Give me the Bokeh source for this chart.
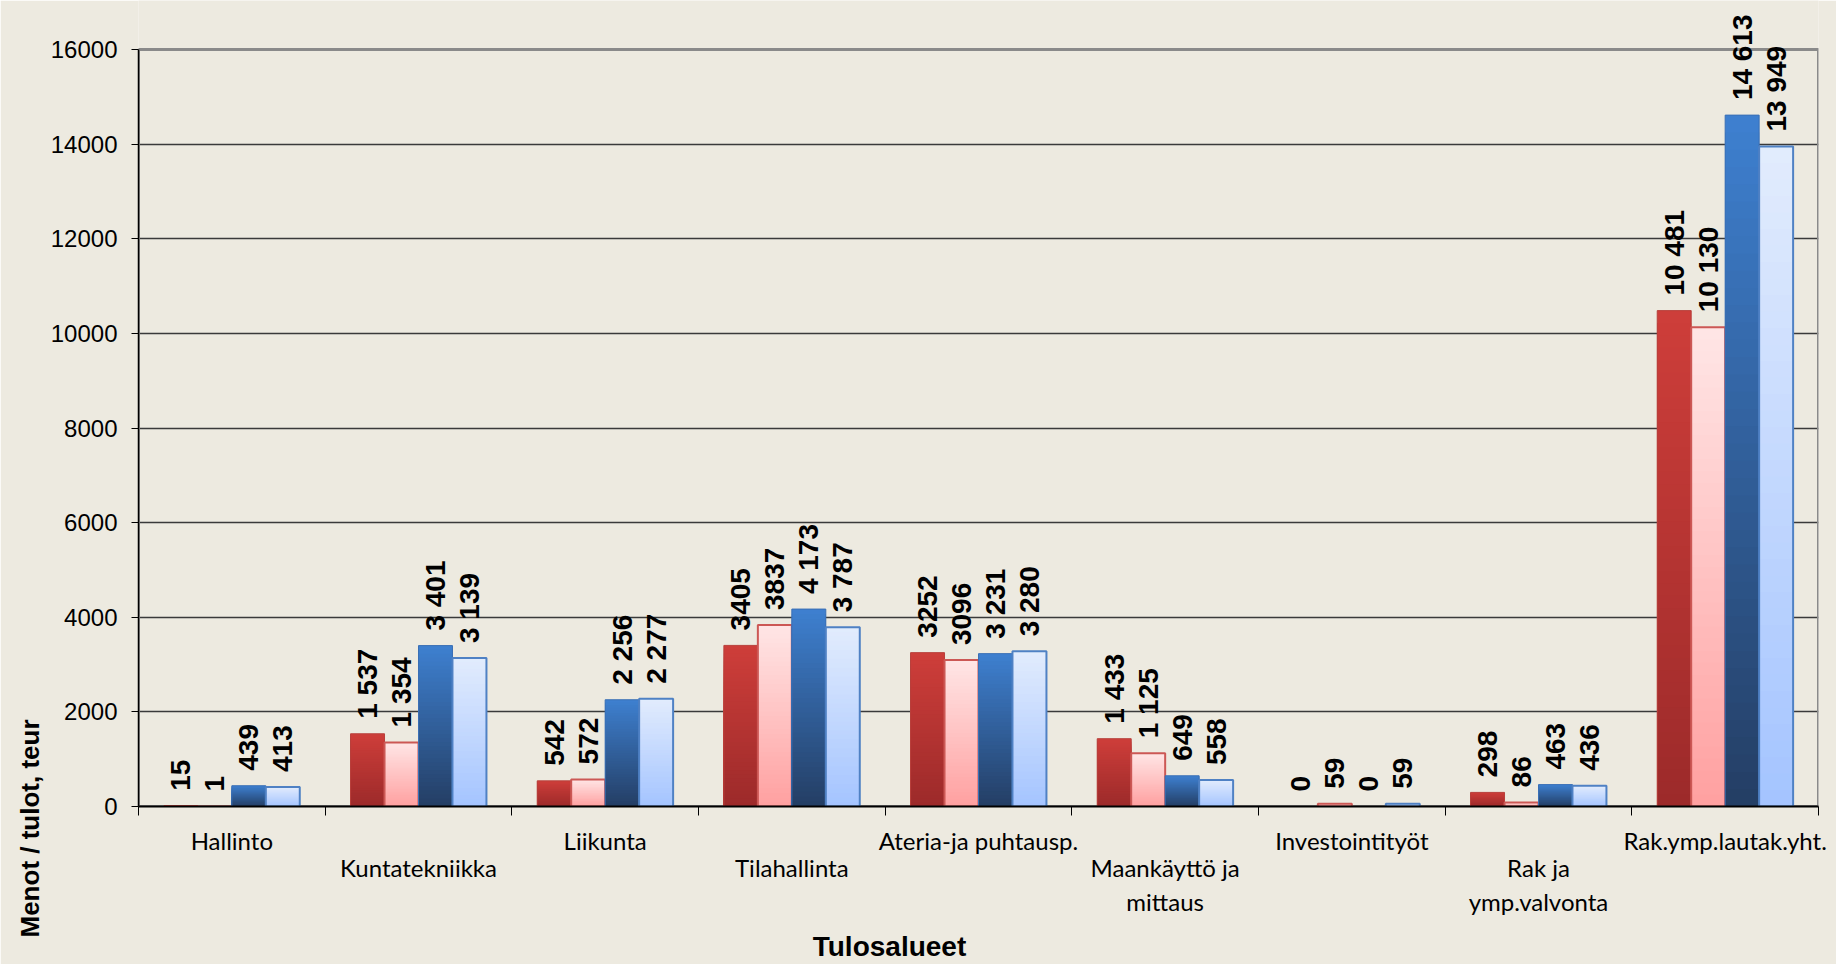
import numpy as np
from bokeh.plotting import figure
from bokeh.models import (ColumnDataSource, Range1d, FixedTicker, LinearAxis,
                          NumeralTickFormatter, Title)
from bokeh.embed import file_html
from bokeh.resources import INLINE
from bokeh.core.properties import value

# ---------------- data ----------------
categories = ["Hallinto", "Kuntatekniikka", "Liikunta", "Tilahallinta",
              "Ateria-ja puhtausp.", "Maankäyttö ja\nmittaus", "Investointityöt",
              "Rak ja\nymp.valvonta", "Rak.ymp.lautak.yht."]
series_1 = [15, 1537, 542, 3405, 3252, 1433, 0, 298, 10481]
series_2 = [1, 1354, 572, 3837, 3096, 1125, 59, 86, 10130]
series_3 = [439, 3401, 2256, 4173, 3231, 649, 0, 463, 14613]
series_4 = [413, 3139, 2277, 3787, 3280, 558, 59, 436, 13949]
# category indices whose value label is printed without a thousands separator
plain_1 = [3, 4]
plain_2 = [3, 4]
plain_3 = []
plain_4 = []
y_ticks = [0, 2000, 4000, 6000, 8000, 10000, 12000, 14000, 16000]
y_title = "Menot / tulot, teur"
x_title = "Tulosalueet"

# ---------------- style ----------------
BG = "#EDEAE0"
W, H = 1836, 964
LEFT, RIGHT, BOTTOM = 138, 18, 158
TOP_GAP = 49          # px between figure top and the top tick
TITLE_X_PX = 889      # horizontal centre of the x title
Y_TITLE_DROP = 131    # px the y title starts below the plot frame
BAR_W = 0.182
N_SLICES = 40
grads = [  # (top colour, bottom colour, outline colour, outline width)
    ((206, 62, 58), (156, 42, 42), "#B8403C", 1),
    ((255, 230, 230), (255, 160, 160), "#CC5855", 2),
    ((62, 128, 208), (36, 62, 100), "#3A6FB5", 1),
    ((226, 236, 253), (164, 196, 255), "#4F81C4", 2),
]

frame_h = H - BOTTOM
frame_w = W - LEFT - RIGHT
y_top = y_ticks[-1] * frame_h / (frame_h - TOP_GAP)
ncat = len(categories)

p = figure(width=W, height=H, x_range=Range1d(0, ncat), y_range=Range1d(0, y_top),
           x_axis_type=None, output_backend="svg", toolbar_location=None,
           min_border_left=LEFT, min_border_right=RIGHT, min_border_top=0,
           min_border_bottom=BOTTOM, background_fill_color=BG, border_fill_color=BG,
           outline_line_color=None)

# grid
p.ygrid.ticker = FixedTicker(ticks=y_ticks[1:-1])
p.ygrid.grid_line_color = "#3a3a3a"
p.ygrid.grid_line_width = 1.3

# plot-area border (gray)
p.quad(left=[0], right=[ncat], bottom=[y_ticks[0]], top=[y_ticks[-1]],
       fill_color=None, line_color="#8a8a8a", line_width=3)

series = [series_1, series_2, series_3, series_4]
plains = [plain_1, plain_2, plain_3, plain_4]


def mix(c0, c1, t):
    return "#%02x%02x%02x" % tuple(int(round(a + (b - a) * t)) for a, b in zip(c0, c1))


for k, vals in enumerate(series):
    ctop, cbot, lcol, lw = grads[k]
    v = np.array(vals, dtype=float)
    xs = np.arange(ncat) + 0.5 + (k - 1.5) * BAR_W
    gx, gtop, gcol = [], [], []
    for j in range(N_SLICES - 1, -1, -1):
        t = (j + 0.5) / N_SLICES
        c = mix(cbot, ctop, t)
        for i in range(ncat):
            gx.append(xs[i])
            gtop.append(v[i] * (j + 1) / N_SLICES)
            gcol.append(c)
    src = ColumnDataSource(dict(x=gx, top=gtop, c=gcol))
    p.vbar(x="x", top="top", bottom=0, width=BAR_W, fill_color="c", line_color=None, source=src)
    p.vbar(x=xs, top=v, bottom=0, width=BAR_W, fill_color=None, line_color=lcol, line_width=lw)

    labels = []
    for i, val in enumerate(vals):
        if i in plains[k]:
            labels.append(str(val))
        else:
            labels.append(f"{val:,}".replace(",", " "))
    p.text(x=xs, y=v, text=labels, angle=np.pi / 2, text_align="left", text_baseline="middle",
           y_offset=-15, text_font=value("Liberation Sans"), text_font_style="bold",
           text_font_size="28px", text_color="black")

# y axis
ya = p.yaxis[0]
ya.ticker = FixedTicker(ticks=y_ticks)
ya.bounds = (y_ticks[0], y_ticks[-1])
ya.formatter = NumeralTickFormatter(format="0")
ya.major_label_text_font = "Liberation Sans"
ya.major_label_text_font_size = "24px"
ya.major_label_text_color = "black"
ya.major_tick_out = 7
ya.major_tick_in = 0
ya.major_tick_line_color = "black"
ya.minor_tick_line_color = None
ya.major_label_standoff = 14
ya.axis_line_color = "black"
ya.axis_line_width = 1.5

# y title: a side title that starts below the frame, as in the source chart
p.add_layout(Title(text=y_title, align="left", offset=-Y_TITLE_DROP,
                   text_font="Liberation Sans", text_font_style="bold",
                   text_font_size="26px", text_color="black", standoff=6), "left")

# x axes (staggered category labels)
centers = [i + 0.5 for i in range(ncat)]
even = [c for i, c in enumerate(centers) if i % 2 == 0]
odd = [c for i, c in enumerate(centers) if i % 2 == 1]
bounds_ticks = [float(i) for i in range(ncat + 1)]

ax1 = LinearAxis(ticker=FixedTicker(ticks=even, minor_ticks=bounds_ticks),
                 major_label_overrides={c: categories[i] for i, c in enumerate(centers) if i % 2 == 0})
ax2 = LinearAxis(ticker=FixedTicker(ticks=odd, minor_ticks=[]),
                 major_label_overrides={c: categories[i] for i, c in enumerate(centers) if i % 2 == 1})
for ax in (ax1, ax2):
    ax.major_tick_line_color = None
    ax.major_tick_out = 0
    ax.major_tick_in = 0
    ax.major_label_text_font = "Lato"
    ax.major_label_text_font_size = "24px"
    ax.major_label_text_color = "black"
ax1.minor_tick_line_color = "black"
ax1.minor_tick_out = 9
ax1.minor_tick_in = 0
ax1.axis_line_color = "black"
ax1.axis_line_width = 2
ax1.major_label_standoff = 10
ax2.minor_tick_line_color = None
ax2.axis_line_color = None
ax2.major_label_standoff = -5

# x title as a third, line-less axis so it can sit left of centre like the source
title_x = (TITLE_X_PX - LEFT) * ncat / frame_w
ax3 = LinearAxis(ticker=FixedTicker(ticks=[title_x], minor_ticks=[]),
                 major_label_overrides={title_x: x_title})
ax3.axis_line_color = None
ax3.major_tick_line_color = None
ax3.minor_tick_line_color = None
ax3.major_tick_out = 0
ax3.major_tick_in = 0
ax3.major_label_standoff = 11
ax3.major_label_text_font = "Liberation Sans"
ax3.major_label_text_font_style = "bold"
ax3.major_label_text_font_size = "28px"
ax3.major_label_text_color = "black"

p.add_layout(ax1, "below")
p.add_layout(ax2, "below")
p.add_layout(ax3, "below")

open("out.html", "w").write(file_html(p, INLINE))
